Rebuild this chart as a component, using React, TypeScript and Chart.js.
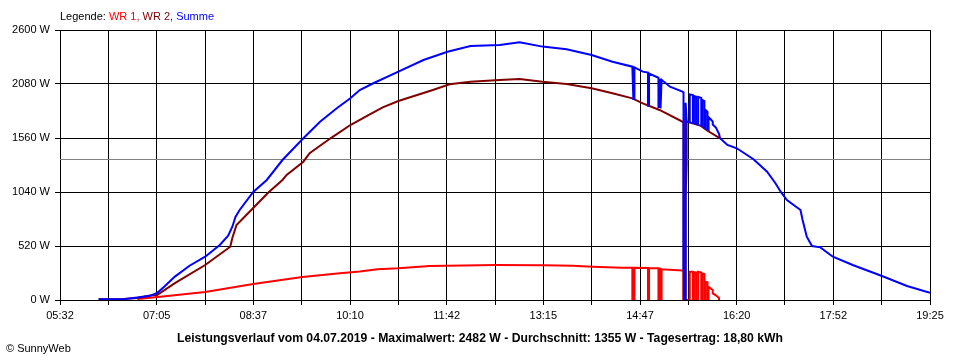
import { useEffect, useRef } from "react";
import { Chart, registerables } from "chart.js";

Chart.register(...registerables);

// ---- axis / text data ----
const xTickLabels = ["05:32", "07:05", "08:37", "10:10", "11:42", "13:15", "14:47", "16:20", "17:52", "19:25"];
const yMin = 0;
const yMax = 2600;
const yStep = 520;
const averageValue = 1355;
const legendPrefix = "Legende: ";
const legendItems = ["WR 1, ", "WR 2, ", "Summe"];
const legendColors = ["#ff0000", "#800000", "#0000ff"];
const titleText =
  "Leistungsverlauf vom 04.07.2019 - Maximalwert: 2482 W - Durchschnitt: 1355 W - Tagesertrag: 18,80 kWh";
const copyrightText = "© SunnyWeb";

// ---- Summe (blue) ----
const sumTimes = [
  "06:09", "06:20", "06:34", "06:46", "06:58", "07:05", "07:12", "07:22", "07:36", "07:51",
  "08:05", "08:13", "08:17", "08:20", "08:24", "08:37", "08:50", "09:05", "09:25", "09:41",
  "09:57", "10:10", "10:19", "10:32", "10:56", "11:20", "11:43", "12:05", "12:33", "12:52",
  "13:14", "13:37", "14:01", "14:21", "14:40", "14:41", "14:41", "14:42", "14:42", "14:50",
  "14:55", "14:55", "14:56", "14:56", "15:05", "15:05", "15:06", "15:06", "15:07", "15:07",
  "15:08", "15:16", "15:28", "15:29", "15:29", "15:30", "15:30", "15:31", "15:31", "15:32",
  "15:33", "15:35", "15:35", "15:38", "15:38", "15:39", "15:39", "15:41", "15:41", "15:43",
  "15:43", "15:46", "15:46", "15:47", "15:47", "15:49", "15:49", "15:50", "15:50", "15:52",
  "15:52", "15:53", "15:53", "15:55", "15:57", "15:57", "16:00", "16:03", "16:04", "16:11",
  "16:20", "16:36", "16:49", "16:57", "17:02", "17:08", "17:21", "17:23", "17:27", "17:32",
  "17:40", "17:52", "18:11", "18:39", "19:03", "19:25",
];
const sumValues = [
  7, 7, 10, 25, 40, 67, 130, 225, 330, 417,
  530, 620, 706, 800, 867, 1040, 1156, 1348, 1557, 1717,
  1846, 1942, 2022, 2087, 2199, 2311, 2391, 2446, 2456, 2482,
  2440, 2414, 2359, 2295, 2247, 1926, 2245, 1930, 2240, 2199,
  2190, 1870, 1870, 2180, 2140, 1850, 2130, 1850, 2125, 1845,
  2120, 2054, 2006, 2000, 285, 285, 0, 0, 1900, 1720,
  1717, 1712, 1980, 1974, 1705, 1702, 1965, 1958, 1695, 1690,
  1955, 1945, 1680, 1676, 1926, 1915, 1660, 1655, 1830, 1810,
  1640, 1636, 1760, 1740, 1717, 1690, 1660, 1600, 1557, 1493,
  1461, 1355, 1236, 1124, 1043, 963, 867, 770, 610, 520,
  507, 417, 337, 231, 135, 70,
];

// ---- WR 2 (dark red) ----
const wr2Times = [
  "06:09", "06:34", "06:46", "07:00", "07:05", "07:22", "07:51", "08:15", "08:17", "08:21",
  "08:37", "08:51", "09:05", "09:09", "09:25", "09:31", "09:51", "10:10", "10:26", "10:41",
  "10:56", "11:14", "11:29", "11:45", "12:05", "12:33", "12:52", "13:14", "13:37", "14:01",
  "14:21", "14:40", "14:50", "15:06", "15:28", "15:29", "15:29", "15:31", "15:31", "15:32",
  "15:32", "15:33", "15:45", "15:52", "16:04",
];
const wr2Values = [
  7, 10, 20, 45, 48, 163, 337, 513, 597, 722,
  886, 1030, 1156, 1204, 1332, 1413, 1557, 1685, 1772, 1855,
  1916, 1974, 2022, 2077, 2102, 2119, 2128, 2102, 2080, 2039,
  1990, 1942, 1894, 1830, 1717, 1717, 0, 0, 980, 1300,
  1720, 1717, 1680, 1630, 1557,
];

// ---- WR 1 (red) ----
const wr1Times = [
  "06:46", "07:08", "07:51", "08:37", "09:24", "10:00", "10:19", "10:36", "10:56", "11:26",
  "11:43", "12:29", "13:14", "13:43", "14:02", "14:30", "14:40", "14:40", "14:41", "14:41",
  "14:42", "14:42", "14:55", "14:55", "14:56", "14:56", "15:05", "15:05", "15:06", "15:06",
  "15:07", "15:07", "15:08", "15:08", "15:28", "15:29", "15:29", "15:35", "15:35", "15:38",
  "15:38", "15:39", "15:39", "15:41", "15:41", "15:43", "15:43", "15:46", "15:46", "15:47",
  "15:47", "15:49", "15:49", "15:50", "15:50", "15:52", "15:52", "15:53", "15:53", "15:55",
  "15:57", "15:57", "16:00", "16:03", "16:03",
];
const wr1Values = [
  10, 32, 77, 154, 221, 257, 275, 296, 305, 327,
  330, 337, 334, 330, 321, 311, 311, 0, 0, 311,
  0, 310, 308, 0, 0, 306, 305, 0, 0, 300,
  300, 0, 0, 295, 285, 285, 0, 0, 273, 273,
  0, 0, 268, 265, 0, 0, 272, 265, 0, 0,
  255, 250, 0, 0, 176, 170, 0, 0, 128, 110,
  96, 64, 45, 19, 0,
];

const toMinutes = (s: string) => {
  const [h, m] = s.split(":").map(Number);
  return h * 60 + m;
};
const toPoints = (times: string[], values: number[]) =>
  times.map((t, i) => ({ x: toMinutes(t), y: values[i] }));

const FONT = "'Liberation Sans', Arial, sans-serif";

export default function App() {
  const canvasRef = useRef<HTMLCanvasElement | null>(null);

  useEffect(() => {
    document.body.style.margin = "0";
    const canvas = canvasRef.current;
    if (!canvas) return;
    const xMin = toMinutes(xTickLabels[0]);
    const xMax = toMinutes(xTickLabels[xTickLabels.length - 1]);
    const gridCount = (xTickLabels.length - 1) * 2;

    const averagePlugin = {
      id: "averageLine",
      beforeDatasetsDraw(chart: any) {
        const { ctx, chartArea, scales } = chart;
        const y = Math.round(scales.y.getPixelForValue(averageValue)) + 0.5;
        ctx.save();
        ctx.strokeStyle = "#808080";
        ctx.lineWidth = 1;
        ctx.beginPath();
        ctx.moveTo(chartArea.left, y);
        ctx.lineTo(chartArea.right, y);
        ctx.stroke();
        ctx.restore();
      },
    };

    const textPlugin = {
      id: "texts",
      beforeDraw(chart: any) {
        const { ctx, width, height } = chart;
        ctx.save();
        ctx.fillStyle = "#ffffff";
        ctx.fillRect(0, 0, width, height);
        ctx.restore();
      },
      afterDraw(chart: any) {
        const { ctx } = chart;
        ctx.save();
        ctx.textBaseline = "alphabetic";
        ctx.textAlign = "left";
        ctx.font = `11px ${FONT}`;
        let x = 60;
        ctx.fillStyle = "#000000";
        ctx.fillText(legendPrefix, x, 20);
        x += ctx.measureText(legendPrefix).width;
        legendItems.forEach((item, i) => {
          ctx.fillStyle = legendColors[i];
          ctx.fillText(item, x, 20);
          x += ctx.measureText(item).width;
        });
        ctx.fillStyle = "#000000";
        ctx.font = `bold 12.2px ${FONT}`;
        ctx.textAlign = "center";
        ctx.fillText(titleText, 480, 341.5);
        ctx.font = `11px ${FONT}`;
        ctx.textAlign = "left";
        ctx.fillText(copyrightText, 6, 352);
        ctx.restore();
      },
    };

    const chart = new Chart(canvas, {
      type: "line",
      data: {
        datasets: [
          {
            label: "Summe",
            data: toPoints(sumTimes, sumValues),
            borderColor: "#0000ff",
            borderWidth: 2,
            pointRadius: 0,
            tension: 0,
            order: 0,
          },
          {
            label: "WR 2",
            data: toPoints(wr2Times, wr2Values),
            borderColor: "#800000",
            borderWidth: 2,
            pointRadius: 0,
            tension: 0,
            order: 1,
          },
          {
            label: "WR 1",
            data: toPoints(wr1Times, wr1Values),
            borderColor: "#ff0000",
            borderWidth: 2,
            pointRadius: 0,
            tension: 0,
            order: 2,
          },
        ],
      },
      options: {
        animation: false,
        responsive: false,
        devicePixelRatio: 1,
        layout: { padding: { left: 0, right: 30, top: 30, bottom: 0 } },
        plugins: {
          legend: { display: false },
          tooltip: { enabled: false },
          title: { display: false },
        },
        scales: {
          x: {
            type: "linear",
            min: xMin,
            max: xMax,
            grid: { color: "#000000", lineWidth: 1, tickLength: 5, drawTicks: true },
            border: { color: "#000000", width: 1 },
            ticks: {
              autoSkip: false,
              maxRotation: 0,
              minRotation: 0,
              padding: 4,
              color: "#000000",
              font: { family: FONT, size: 11 },
              callback: (_v: any, i: number) => (i % 2 === 0 ? xTickLabels[i / 2] : ""),
            },
            afterBuildTicks: (scale: any) => {
              const ticks = [];
              for (let i = 0; i <= gridCount; i++) {
                ticks.push({ value: xMin + (i * (xMax - xMin)) / gridCount });
              }
              scale.ticks = ticks;
            },
            afterFit: (scale: any) => {
              scale.height = 60;
            },
          },
          y: {
            min: yMin,
            max: yMax,
            grid: { color: "#000000", lineWidth: 1, tickLength: 5, drawTicks: true },
            border: { color: "#000000", width: 1 },
            ticks: {
              stepSize: yStep,
              padding: 5,
              color: "#000000",
              font: { family: FONT, size: 11 },
              callback: (v: any) => `${v} W`,
            },
            afterFit: (scale: any) => {
              scale.width = 60;
            },
          },
        },
      },
      plugins: [averagePlugin, textPlugin],
    } as any);

    return () => {
      chart.destroy();
    };
  }, []);

  return (
    <div style={{ width: 960, height: 360 }}>
      <canvas ref={canvasRef} width={960} height={360} style={{ display: "block" }} />
    </div>
  );
}
